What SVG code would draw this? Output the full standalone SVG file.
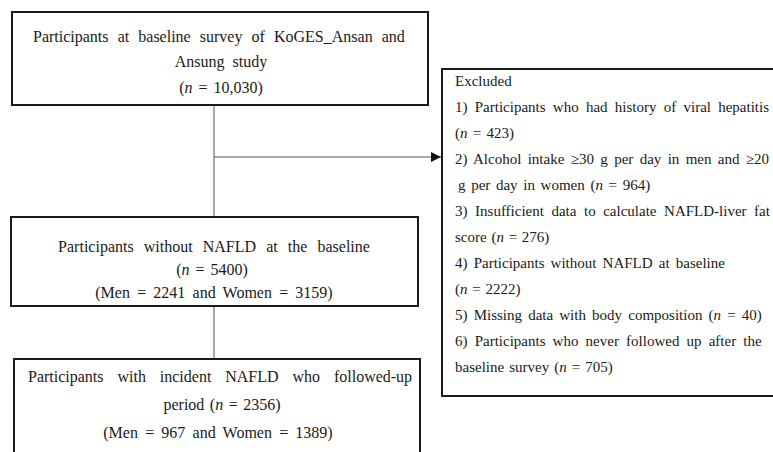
<svg xmlns="http://www.w3.org/2000/svg" width="773" height="452" viewBox="0 0 773 452">
<defs>
<style>
.box{fill:#fff;stroke:#1a1a1a;stroke-width:2}
.t{font-family:"Liberation Serif","Times New Roman",serif;font-size:15px;fill:#1a1a1a}
.m{font-size:16px}
.c{text-anchor:middle}
.i{font-style:italic}
.ln{stroke:#555;stroke-width:1;fill:none}
</style>
<marker id="ah" viewBox="0 0 10 10" refX="10" refY="5" markerWidth="10" markerHeight="10" markerUnits="userSpaceOnUse" orient="auto">
<path d="M0,0 L10,5 L0,10 Z" fill="#111"/>
</marker>
</defs>
<rect width="773" height="452" fill="#fff"/>
<g id="connectors">
<line class="ln" x1="214" y1="105" x2="214" y2="217"/>
<line class="ln" x1="214" y1="306" x2="214" y2="359"/>
<line class="ln" x1="214" y1="157" x2="441" y2="157" marker-end="url(#ah)"/>
</g>
<g id="baseline">
<rect class="box" x="12" y="12" width="416" height="93"/>
<text class="t m" x="33" y="42" style="word-spacing:5.1px">Participants at baseline survey of KoGES_Ansan and</text>
<text class="t m c" x="221" y="67" style="word-spacing:4px">Ansung study</text>
<text class="t m c" x="221" y="93" style="word-spacing:2px">(<tspan class="i">n</tspan> = 10,030)</text>
</g>
<g id="without">
<rect class="box" x="11" y="217" width="407" height="89"/>
<text class="t m c" x="214" y="252" style="word-spacing:6.1px">Participants without NAFLD at the baseline</text>
<text class="t m c" x="212" y="275" style="word-spacing:2px">(<tspan class="i">n</tspan> = 5400)</text>
<text class="t m c" x="214" y="298" style="word-spacing:3.2px">(Men = 2241 and Women = 3159)</text>
</g>
<g id="incident">
<rect class="box" x="14" y="359" width="406" height="110"/>
<text class="t m" x="28" y="382" style="word-spacing:9.9px">Participants with incident NAFLD who followed-up</text>
<text class="t m c" x="222" y="410" style="word-spacing:1.5px">period (<tspan class="i">n</tspan> = 2356)</text>
<text class="t m c" x="218" y="438" style="word-spacing:3.2px">(Men = 967 and Women = 1389)</text>
</g>
<g id="excluded">
<rect class="box" x="442" y="69" width="345" height="327"/>
<text class="t" x="455" y="86">Excluded</text>
<text class="t" x="455" y="112" style="word-spacing:3.5px">1) Participants who had history of viral hepatitis</text>
<text class="t" x="455" y="138" style="word-spacing:1.5px">(<tspan class="i">n</tspan> = 423)</text>
<text class="t" x="455" y="164" style="word-spacing:2.6px">2) Alcohol intake ≥30 g per day in men and ≥20</text>
<text class="t" x="458" y="190" style="word-spacing:1.9px">g per day in women (<tspan class="i">n</tspan> = 964)</text>
<text class="t" x="455" y="216" style="word-spacing:3.8px">3) Insufficient data to calculate NAFLD-liver fat</text>
<text class="t" x="455" y="242" style="word-spacing:1px">score (<tspan class="i">n</tspan> = 276)</text>
<text class="t" x="455" y="268" style="word-spacing:2.4px">4) Participants without NAFLD at baseline</text>
<text class="t" x="455" y="294" style="word-spacing:1px">(<tspan class="i">n</tspan> = 2222)</text>
<text class="t" x="455" y="320" style="word-spacing:2.4px">5) Missing data with body composition (<tspan class="i">n</tspan> = 40)</text>
<text class="t" x="455" y="346" style="word-spacing:3.4px">6) Participants who never followed up after the</text>
<text class="t" x="455" y="372" style="word-spacing:1.3px">baseline survey (<tspan class="i">n</tspan> = 705)</text>
</g>
</svg>
